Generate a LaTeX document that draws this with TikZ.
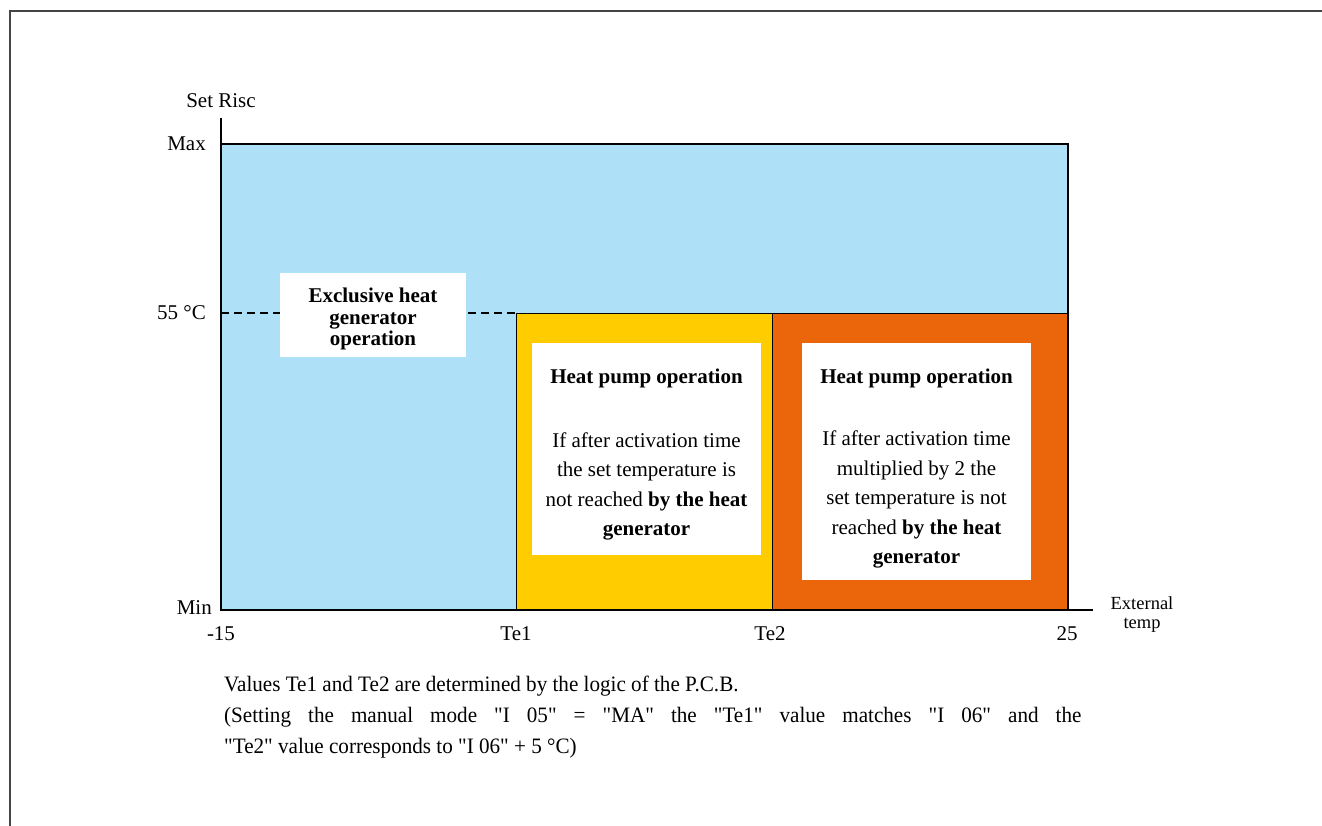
\documentclass[tikz,border=0pt]{standalone}
\usepackage{fontspec}
\usepackage{graphicx}
\setmainfont{Liberation Serif}
\definecolor{skyfill}{HTML}{AEE1F7}
\definecolor{yelfill}{HTML}{FFCC00}
\definecolor{orafill}{HTML}{EB650A}
\definecolor{framegray}{HTML}{444444}
\newcommand{\qd}{\textquotedbl}
\newcommand{\narrowline}[1]{\scalebox{0.96}[1]{#1}}
\begin{document}
\begin{tikzpicture}[x=1pt,y=-1pt,
  zone/.style={draw=black,line width=2.2pt},
  whitebox/.style={fill=white,draw=none,inner sep=0pt},
  boxtext/.style={align=center,inner sep=0pt,font=\fontsize{21}{29.5}\selectfont},
  axlabel/.style={inner sep=0pt,font=\fontsize{21}{24}\selectfont},
  notetext/.style={anchor=base west,inner sep=0pt,font=\fontsize{22}{31}\selectfont}]
\useasboundingbox (0,0) rectangle (1322,826);
% frame
\draw[framegray,line width=1.6pt] (1322,11) -- (10,11) -- (10,826);
% zones
\fill[skyfill] (221,144) rectangle (1068,610);
\draw[zone] (221,144) -- (1068,144) -- (1068,313);
\fill[yelfill] (516,313) rectangle (772,610);
\fill[orafill] (772,313) rectangle (1068,610);
\draw[line width=1pt] (516,313) -- (1068,313);
\draw[line width=1pt] (516,313) -- (516,610);
\draw[line width=1pt] (772,313) -- (772,610);
\draw[line width=2.2pt] (1068,313) -- (1068,610);
\draw[line width=2pt,dash pattern=on 8pt off 5pt] (221,313) -- (516,313);
% axes
\coordinate (ytop) at (221,118);
\coordinate (orig) at (221,610);
\coordinate (xend) at (1093,610);
\draw[line width=2.2pt] (ytop) -- (orig) -- (xend);
% white boxes
\node[whitebox,minimum width=186pt,minimum height=84pt] (exbox) at (373,315) {};
\node[boxtext,font=\fontsize{21}{21.5}\selectfont\bfseries] (extext) at (373,319) {Exclusive heat\\generator\\operation};
\node[whitebox,minimum width=229pt,minimum height=212pt] (hpbox1) at (646.5,449) {};
\node[boxtext,font=\fontsize{21}{24}\selectfont\bfseries] (hpt1) at (646.5,378) {Heat pump operation};
\node[boxtext] (hpb1) at (646.5,486.5) {If after activation time\\the set temperature is\\not reached \textbf{by the heat}\\\textbf{generator}};
\node[whitebox,minimum width=229pt,minimum height=237pt] (hpbox2) at (916.5,461.5) {};
\node[boxtext,font=\fontsize{21}{24}\selectfont\bfseries] (hpt2) at (916.5,378) {Heat pump operation};
\node[boxtext] (hpb2) at (916.5,499.5) {If after activation time\\multiplied by 2 the\\set temperature is not\\reached \textbf{by the heat}\\\textbf{generator}};
% axis labels
\node[axlabel] (setrisc) at (221,101) {Set Risc};
\node[axlabel,anchor=east] (lmax) at (206,144) {Max};
\node[axlabel,anchor=east] (l55) at (206,313) {55 °C};
\node[axlabel,anchor=east] (lmin) at (212,608) {Min};
\node[axlabel] (tm15) at (221,634) {-15};
\node[axlabel] (tte1) at (516,634) {Te1};
\node[axlabel] (tte2) at (770,634) {Te2};
\node[axlabel] (t25) at (1067,634) {25};
\node[align=center,inner sep=0pt,font=\fontsize{18.5}{19}\selectfont] (exttemp) at (1142,615) {External\\temp};
% notes
\node[notetext] (note1) at (224,691) {\narrowline{Values Te1 and Te2 are determined by the logic of the P.C.B.}};
\node[notetext] (note2) at (224,722) {\narrowline{\makebox[893pt][s]{(Setting the manual mode \qd I 05\qd{} = \qd MA\qd{} the \qd Te1\qd{} value matches \qd I 06\qd{} and the}}};
\node[notetext] (note3) at (224,753) {\narrowline{\qd Te2\qd{} value corresponds to \qd I 06\qd{} + 5 °C)}};
\end{tikzpicture}
\end{document}
